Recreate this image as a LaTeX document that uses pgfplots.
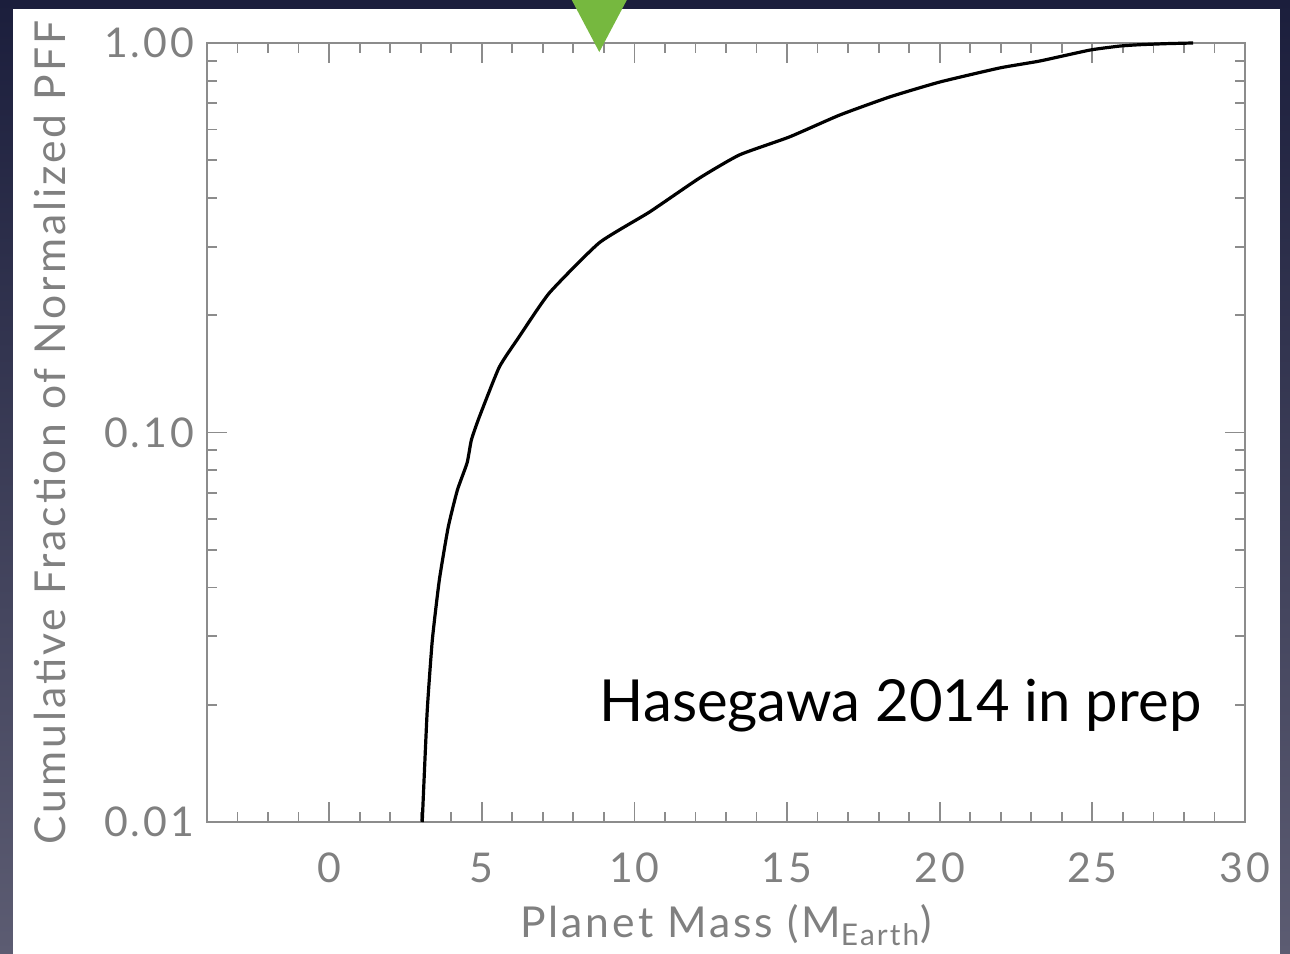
\documentclass[border=0pt]{standalone}
\usepackage{pgfplots}
\pgfplotsset{compat=1.18}
\usepackage{fontspec}
\setmainfont{Lato}
\newfontfamily\idlfont[LetterSpace=7]{Lato}
\definecolor{navytop}{HTML}{1B1E3C}
\definecolor{navybot}{HTML}{5C5C72}
\definecolor{axgray}{HTML}{8C8C8C}
\definecolor{labgray}{HTML}{808080}
\definecolor{trigreen}{HTML}{76B83F}
\begin{document}
\begin{tikzpicture}
\useasboundingbox (-103.5pt,-65.5pt) rectangle (541.5pt,411pt);
\shade[top color=navytop, bottom color=navybot] (-103.5pt,-65.5pt) rectangle (541.5pt,411pt);
\fill[white] (-97pt,-66pt) rectangle (536.5pt,406.5pt);
\begin{axis}[
  at={(0pt,0pt)}, anchor=south west,
  scale only axis, width=519pt, height=389.5pt,
  xmin=-4, xmax=30, ymode=log, ymin=0.01, ymax=1,
  xtick={0,5,...,30}, minor xtick={-4,-3,...,30},
  ytick={0.01,0.1,1}, yticklabels={0.01,0.10,1.00},
  /pgf/number format/assume math mode=true,
  xticklabel={\idlfont\pgfmathprintnumber{\tick}},
  tick align=inside, major tick length=10pt, minor tick length=5pt,
  axis line style={draw=axgray, line width=1.1pt},
  every tick/.style={axgray, line width=0.9pt},
  tick label style={font=\idlfont\fontsize{20.5}{24}\selectfont, text=labgray},
  xticklabel style={yshift=-12pt},
  yticklabel style={xshift=-3pt},
  every axis x label/.style={at={(axis description cs:0.5,-0.1322)}, anchor=center},
  every axis y label/.style={at={(axis description cs:-0.1510,0.5)}, anchor=center, rotate=90},
  label style={font=\idlfont\fontsize{21.3}{25}\selectfont, text=labgray},
  xlabel={Planet Mass (M\textsubscript{Earth})},
  ylabel={Cumulative Fraction of Normalized PFF},
  clip=false,
]
\addplot[black, line width=1.6pt, smooth, tension=0.3] table {
x y
3.05 0.0100
3.21 0.0191
3.38 0.0293
3.61 0.0418
3.90 0.0571
4.20 0.0711
4.52 0.0836
4.66 0.0957
4.92 0.1096
5.57 0.147
6.20 0.175
7.21 0.228
8.85 0.307
10.49 0.368
12.13 0.450
13.44 0.516
15.08 0.574
16.72 0.653
18.36 0.727
20.00 0.794
21.97 0.863
23.28 0.899
24.92 0.959
25.90 0.982
26.56 0.990
27.40 0.996
28.30 1.000
};
\node[anchor=base west, font=\fontsize{29}{34}\selectfont, inner sep=0pt] at (axis cs:8.85,0.0181) {Hasegawa 2014 in prep};
\fill[trigreen] (axis cs:8.85,0.948) -- ++(-16.4pt,31pt) -- ++(32.8pt,0pt) -- cycle;
\end{axis}
\end{tikzpicture}
\end{document}
